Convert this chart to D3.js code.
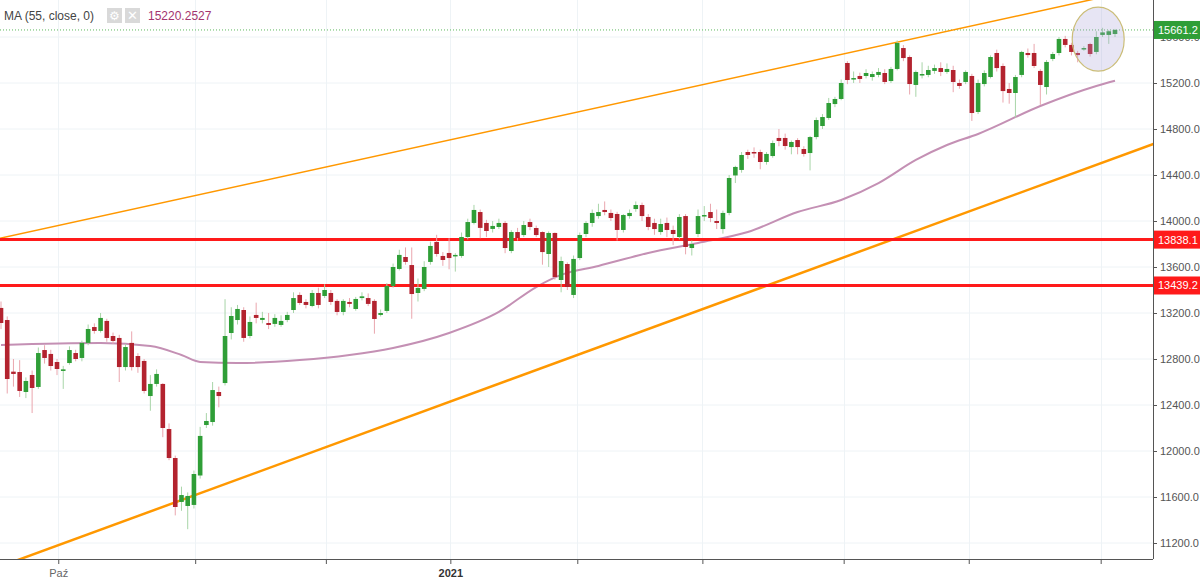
<!DOCTYPE html>
<html>
<head>
<meta charset="utf-8">
<script src="https://cdn.jsdelivr.net/npm/d3@7"></script>
<style>
  body { margin: 0; background: #fff; }
  svg { display: block; font-family: "Liberation Sans", Arial, sans-serif; }
</style>
</head>
<body>
<div id="chart"></div>
<script>
// OHLC per trading day (Sep 2020 .. Jun 2021)
const opens = [13244,13139,12690,12687,12513,12661,12557,12878,12844,12774,12696,12765,12852,12809,12940,13078,13044,13131,13000,12983,
  12730,12940,12826,12783,12478,12583,12583,12191,11939,11557,11522,11531,11787,12226,12252,12513,12591,13026,13139,13226,
  13000,13183,13140,13113,13105,13096,13139,13226,13357,13296,13261,13374,13348,13374,13305,13209,13296,13235,13330,13330,
  13305,13183,13218,13435,13583,13687,13617,13374,13409,13644,13818,13696,13722,13700,13696,13861,13983,14078,13983,13931,
  13948,13983,13739,13904,13878,13991,13939,13904,13713,13896,13487,13626,13357,13678,13887,13983,14043,14096,14070,14061,
  13922,14043,14104,14139,14035,13983,13904,13983,13922,13861,14043,13765,13887,14043,14078,14000,13930,14070,14396,14444,
  14600,14600,14600,14513,14565,14722,14722,14643,14704,14626,14591,14730,14826,14896,15017,15061,15374,15235,15261,15261,
  15252,15270,15287,15217,15322,15504,15426,15183,15270,15270,15305,15330,15296,15313,15200,15209,15261,14948,15191,15252,
  15461,15348,15148,15113,15270,15461,15461,15305,15165,15409,15461,15583,15531,15461,15496,15539,15470,15618,15618,15626];
const closes = [13113,12626,12670,12522,12609,12548,12852,12809,12739,12713,12710,12878,12800,12940,13061,13044,13157,12983,12957,12730,
  12904,12730,12730,12522,12583,12670,12200,11939,11513,11617,11609,11800,12131,12261,12530,12478,13000,13174,13235,12983,
  13122,13157,13157,13096,13157,13131,13183,13330,13287,13270,13374,13270,13400,13296,13209,13305,13279,13322,13345,13279,
  13148,13200,13435,13600,13705,13644,13365,13418,13600,13783,13713,13661,13678,13705,13861,13991,14096,13940,13913,13957,
  13983,13765,13904,13852,13965,13948,13878,13730,13896,13513,13652,13426,13670,13878,13983,14070,14078,14078,14026,13922,
  14052,14070,14139,14043,13948,13930,13974,13922,13887,14035,13774,13800,14043,14052,14026,13983,14070,14374,14470,14574,
  14574,14587,14513,14583,14678,14696,14652,14687,14643,14583,14730,14878,14904,15026,15061,15200,15226,15243,15235,15287,
  15278,15296,15209,15322,15548,15417,15191,15296,15278,15313,15330,15296,15322,15209,15174,15296,14939,15200,15287,15426,
  15330,15130,15113,15252,15470,15443,15348,15183,15383,15452,15583,15531,15470,15443,15504,15452,15600,15640,15650,15661.2];
const highs = [13300,13170,12800,12790,12640,12700,12900,12920,12880,12800,12740,12910,12880,12960,13100,13110,13200,13150,13030,13010,
  12930,13040,12850,12800,12660,12710,12590,12240,11960,11690,11640,11830,12210,12330,12600,12560,13320,13250,13270,13250,
  13170,13290,13210,13200,13190,13180,13210,13380,13380,13320,13400,13420,13450,13400,13320,13320,13330,13340,13380,13370,
  13320,13230,13460,13630,13750,13770,13770,13500,13650,13820,13880,13730,13850,13720,13900,14020,14140,14100,14010,14000,
  14020,14000,13920,13940,14000,14020,13960,13910,13910,13900,13690,13640,13700,13900,14000,14100,14150,14170,14100,14080,
  14060,14100,14170,14160,14060,14020,14020,14030,13960,14060,14060,13830,14100,14130,14150,14100,14090,14400,14480,14600,
  14620,14640,14620,14600,14700,14800,14760,14700,14720,14650,14740,14900,14930,15070,15080,15230,15390,15300,15290,15320,
  15300,15330,15320,15340,15570,15530,15440,15310,15380,15350,15360,15380,15370,15350,15230,15310,15280,15230,15310,15440,
  15490,15370,15200,15270,15480,15500,15540,15320,15400,15470,15600,15610,15550,15480,15520,15550,15650,15680,15660,15670];
const lows = [13060,12500,12560,12470,12460,12330,12540,12760,12700,12660,12540,12750,12780,12780,12920,13020,13030,12950,12930,12600,
  12700,12700,12680,12500,12350,12560,12120,11920,11440,11480,11320,11500,11760,12200,12220,12380,12570,12970,13100,12950,
  12980,13110,13110,13060,13080,13080,13120,13200,13270,13240,13250,13240,13330,13270,13180,13180,13250,13220,13310,13260,
  13020,13170,13200,13420,13570,13620,13150,13300,13390,13620,13690,13610,13580,13560,13680,13840,13970,13850,13860,13900,
  13930,13720,13720,13830,13860,13920,13860,13620,13600,13490,13380,13400,13330,13660,13860,13950,14020,14050,14000,13830,
  13900,14020,14080,14000,13920,13880,13880,13860,13790,13840,13710,13700,13860,14000,13990,13930,13890,14050,14330,14420,
  14540,14550,14450,14490,14550,14650,14620,14580,14580,14560,14440,14710,14800,14880,14990,15050,15190,15200,15200,15240,
  15220,15250,15190,15200,15310,15390,15100,15080,15240,15250,15280,15260,15280,15120,15150,15190,14870,14930,15170,15240,
  15300,15030,15020,14900,15250,15420,15330,15010,15100,15390,15440,15510,15440,15380,15480,15430,15450,15600,15540,15600];

// 55-day moving average, read at sample points (candle index, value)
const maIdx = [0,16,24,29,32,38,48,56,63,72,80,86,90,96,104,112,120,128,135,141,147,152,157,167,176,179];
const maVal = [12922,12939,12913,12835,12774,12765,12791,12835,12896,13026,13209,13426,13531,13609,13722,13809,13904,14078,14183,14330,14531,14661,14757,15000,15174,15220];

// trend channel anchors (candle index, price)
const upperTrend = [[0, 13852], [175, 15922]];
const lowerTrend = [[2.7, 11052], [184.7, 14661]];

const levels = [13838.1, 13439.2];
const lastPrice = 15661.2;
const maLabel = "15220.2527";

const yTicks = d3.range(11200, 15601, 400);
const xTickIdx = [9.2, 31.2, 52.2, 72.2, 92.6, 112.7, 135.4, 155.5, 176.7];
const xTickLabels = ["Paź", "", "", "2021", "", "", "", "", ""];

const W = 1200, H = 578;
const plotR = 1153, plotB = 559;

const x = d3.scaleLinear().domain([0, 179]).range([1, 1115]);
const y = d3.scaleLinear().domain([11200, 15600]).range([543, 37]);

const svg = d3.select("#chart").append("svg").attr("width", W).attr("height", H);

svg.append("defs").append("clipPath").attr("id", "clip")
  .append("rect").attr("width", plotR).attr("height", plotB);

// grid
const grid = svg.append("g");
grid.selectAll(".hg").data(yTicks).enter().append("line")
  .attr("x1", 0).attr("x2", plotR)
  .attr("y1", d => y(d)).attr("y2", d => y(d))
  .attr("stroke", "#eef3f6").attr("stroke-width", 1);
grid.selectAll(".vg").data(xTickIdx).enter().append("line")
  .attr("x1", d => Math.round(x(d)) + 0.5).attr("x2", d => Math.round(x(d)) + 0.5)
  .attr("y1", 0).attr("y2", plotB)
  .attr("stroke", "#eef3f6").attr("stroke-width", 1);

const plot = svg.append("g").attr("clip-path", "url(#clip)");

// last price dotted line
plot.append("line").attr("x1", 0).attr("x2", plotR)
  .attr("y1", y(lastPrice)).attr("y2", y(lastPrice))
  .attr("stroke", "#5cb85c").attr("stroke-width", 1).attr("stroke-dasharray", "1,2");

// trend lines
const trendLine = (pts, w) => {
  const [a, b] = pts;
  const slope = (b[1] - a[1]) / (b[0] - a[0]);
  const i0 = x.invert(-20), i1 = x.invert(plotR + 20);
  plot.append("line")
    .attr("x1", x(i0)).attr("y1", y(a[1] + slope * (i0 - a[0])))
    .attr("x2", x(i1)).attr("y2", y(a[1] + slope * (i1 - a[0])))
    .attr("stroke", "#ff9800").attr("stroke-width", w);
};
trendLine(upperTrend, 1.5);
trendLine(lowerTrend, 2.5);

// MA line
const maData = maIdx.map((d, i) => [d, maVal[i]]);
plot.append("path").datum(maData)
  .attr("fill", "none").attr("stroke", "#c490b4").attr("stroke-width", 2)
  .attr("d", d3.line().x(d => x(d[0])).y(d => y(d[1])).curve(d3.curveMonotoneX));

// horizontal levels
plot.selectAll(".lvl").data(levels).enter().append("line")
  .attr("x1", 0).attr("x2", plotR)
  .attr("y1", d => y(d)).attr("y2", d => y(d))
  .attr("stroke", "#ff1a1a").attr("stroke-width", 3);

// candles
const candles = plot.selectAll(".c").data(opens.map((o, i) => ({i, o, c: closes[i], h: highs[i], l: lows[i]})))
  .enter().append("g");
candles.append("line")
  .attr("x1", d => x(d.i)).attr("x2", d => x(d.i))
  .attr("y1", d => y(d.h)).attr("y2", d => y(d.l))
  .attr("stroke", d => d.c >= d.o ? "#a8d5a8" : "#eaa6ae").attr("stroke-width", 1);
candles.append("rect")
  .attr("x", d => x(d.i) - 2.3).attr("width", 4.6)
  .attr("y", d => y(Math.max(d.o, d.c)))
  .attr("height", d => Math.max(1.5, Math.abs(y(d.o) - y(d.c))))
  .attr("fill", d => d.c >= d.o ? "#2f9e37" : "#b3232f");

// highlight ellipse
plot.append("ellipse")
  .attr("cx", x(176.3)).attr("cy", y(15581)).attr("rx", 26).attr("ry", 32)
  .attr("fill", "rgba(170,160,215,0.28)").attr("stroke", "#cbbd78").attr("stroke-width", 1.2);

// axes
const yAxis = svg.append("g").attr("transform", `translate(${plotR},0)`)
  .call(d3.axisRight(y).tickValues(yTicks).tickFormat(d3.format(".1f")).tickSize(4).tickSizeOuter(0));
yAxis.select(".domain").attr("stroke", "#555").attr("d", `M0.5,0V${plotB}`);
yAxis.selectAll("text").attr("fill", "#555").attr("font-size", 11).attr("x", 7);
yAxis.selectAll(".tick line").attr("stroke", "#555");

const xAxis = svg.append("g").attr("transform", `translate(0,${plotB})`)
  .call(d3.axisBottom(x).tickValues(xTickIdx).tickFormat((d, i) => xTickLabels[i]).tickSize(5).tickSizeOuter(0));
xAxis.select(".domain").attr("stroke", "#555").attr("d", `M0,0.5H${plotR}`);
xAxis.selectAll(".tick line").attr("stroke", "#555");
xAxis.selectAll("text").attr("font-size", 11).attr("dy", "0.9em")
  .attr("font-weight", (d, i) => xTickLabels[i] === "2021" ? "bold" : "normal")
  .attr("fill", (d, i) => xTickLabels[i] === "2021" ? "#333" : "#666");

// price labels on axis
const priceTag = (v, bg) => {
  const g = svg.append("g").attr("transform", `translate(${plotR + 1},${y(v)})`);
  g.append("rect").attr("x", 0).attr("y", -9).attr("width", W - plotR).attr("height", 18).attr("fill", bg);
  g.append("text").attr("x", 4).attr("y", 4).attr("fill", "#fff").attr("font-size", 11)
    .text(d3.format(".1f")(v));
};
levels.forEach(v => priceTag(v, "#ff1a1a"));
priceTag(lastPrice, "#2f9e37");

// legend header
const hdr = svg.append("g");
hdr.append("text").attr("x", 4).attr("y", 20).attr("font-size", 12).attr("fill", "#444").text("MA (55, close, 0)");
hdr.append("rect").attr("x", 107).attr("y", 8).attr("width", 15).attr("height", 15).attr("fill", "#d9d9d9");
hdr.append("text").attr("x", 114.5).attr("y", 20).attr("text-anchor", "middle").attr("font-size", 12).attr("fill", "#fff").text("⚙");
hdr.append("rect").attr("x", 125).attr("y", 8).attr("width", 15).attr("height", 15).attr("fill", "#d9d9d9");
hdr.append("text").attr("x", 132.5).attr("y", 20).attr("text-anchor", "middle").attr("font-size", 13).attr("fill", "#fff").text("✕");
hdr.append("text").attr("x", 148).attr("y", 20).attr("font-size", 12).attr("fill", "#a3346e").text(maLabel);
</script>
</body>
</html>
